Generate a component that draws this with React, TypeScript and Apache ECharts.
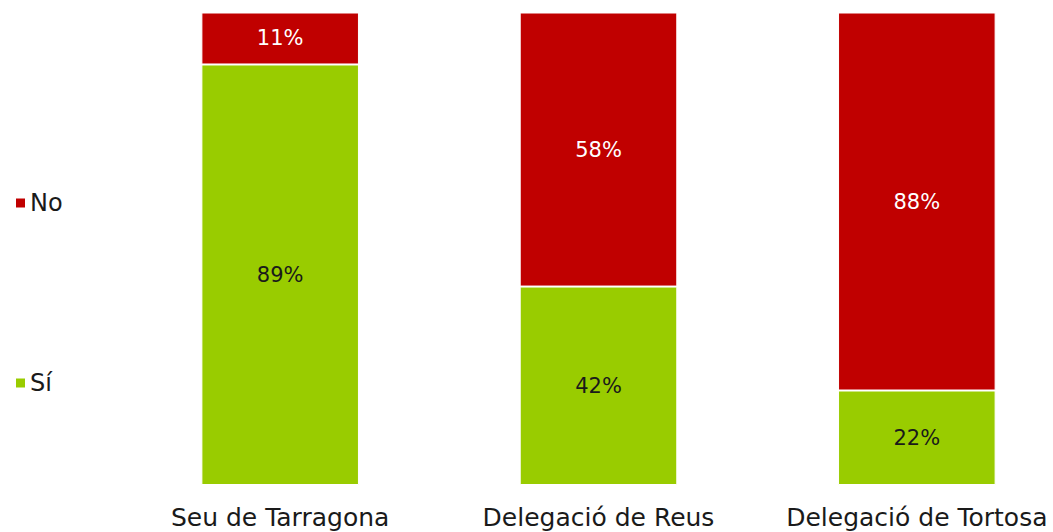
import React, { useEffect, useRef } from "react";
import * as echarts from "echarts";

const categories = ["Seu de Tarragona", "Delegació de Reus", "Delegació de Tortosa"];
// Bar shares (percent of bar height)
const siValues = [89, 42, 20];
const noValues = [11, 58, 80];
// Label texts as printed on the chart
const siLabels = ["89%", "42%", "22%"];
const noLabels = ["11%", "58%", "88%"];

const FONT = "DejaVu Sans";

export default function App() {
  const ref = useRef<HTMLDivElement>(null);
  useEffect(() => {
    const chart = echarts.init(ref.current!, null, { renderer: "svg" });
    chart.setOption({
      animation: false,
      textStyle: { fontFamily: FONT },
      legend: {
        orient: "vertical",
        left: 9,
        top: 186,
        itemWidth: 11,
        itemHeight: 11,
        itemGap: 156,
        icon: "rect",
        data: ["No", "Sí"],
        textStyle: { fontSize: 24, color: "#1a1a1a", fontFamily: FONT, padding: [0, 0, 0, -1] },
      },
      grid: { left: 121, right: -23, top: 12.5, bottom: 47, outerBoundsMode: "none", containLabel: false },
      xAxis: {
        type: "category",
        data: categories,
        axisLine: { show: false },
        axisTick: { show: false },
        axisLabel: { fontSize: 25, color: "#1a1a1a", fontFamily: FONT, margin: 20, interval: 0 },
      },
      yAxis: { type: "value", min: 0, max: 100, show: false, splitLine: { show: false } },
      series: [
        {
          name: "Sí",
          type: "bar",
          stack: "t",
          barWidth: "49.5%",
          data: siValues,
          itemStyle: { color: "#99CC00", borderColor: "#fff", borderWidth: 1 },
          label: {
            show: true,
            position: "inside",
            fontSize: 21,
            color: "#1a1a1a",
            fontFamily: FONT,
            formatter: (p: any) => siLabels[p.dataIndex],
          },
        },
        {
          name: "No",
          type: "bar",
          stack: "t",
          data: noValues,
          itemStyle: { color: "#C00000", borderColor: "#fff", borderWidth: 1 },
          label: {
            show: true,
            position: "inside",
            fontSize: 21,
            color: "#fff",
            fontFamily: FONT,
            formatter: (p: any) => noLabels[p.dataIndex],
          },
        },
      ],
    });
    return () => chart.dispose();
  }, []);
  return (
    <div
      ref={ref}
      style={{ position: "fixed", left: 0, top: 0, width: 1053, height: 532, background: "#fff" }}
    />
  );
}
